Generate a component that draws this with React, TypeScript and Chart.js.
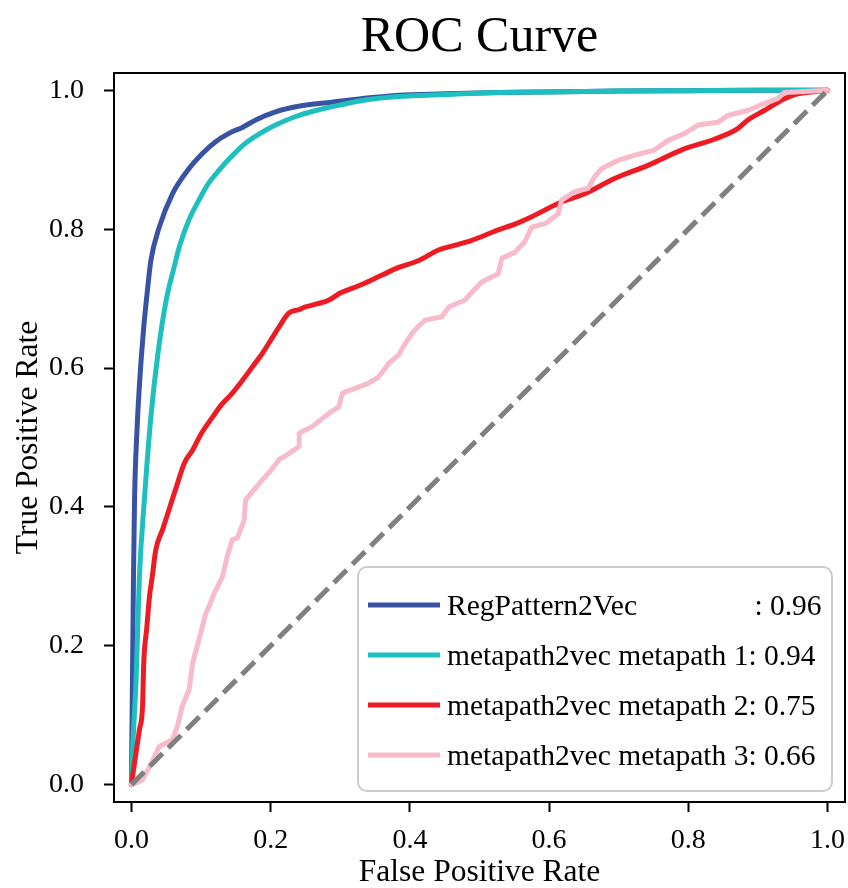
import React, { useEffect, useRef } from "react";
import { Chart, registerables } from "chart.js";

Chart.register(...registerables);

const FONT = "'Liberation Serif', 'Times New Roman', Times, serif";

const titleText = "ROC Curve";
const xAxisLabel = "False Positive Rate";
const yAxisLabel = "True Positive Rate";
const tickValues = [0, 0.2, 0.4, 0.6, 0.8, 1.0];

const seriesNames = [
  "RegPattern2Vec",
  "metapath2vec metapath 1",
  "metapath2vec metapath 2",
  "metapath2vec metapath 3",
];
const seriesAuc = ["0.96", "0.94", "0.75", "0.66"];
const seriesColors = ["#3953a4", "#1ebfbf", "#ed1c24", "#f8bbcb"];
const diagonalColor = "#808080";

// [false positive rate, true positive rate]
const regPattern2VecRoc: [number, number][] = [
  [0, 0], [0.001, 0.1], [0.002, 0.2], [0.003, 0.3], [0.0045, 0.41], [0.008, 0.51],
  [0.0115, 0.575], [0.0139, 0.611], [0.0177, 0.659], [0.0225, 0.707], [0.028, 0.755],
  [0.04, 0.803], [0.059, 0.851], [0.081, 0.885], [0.102, 0.909],
  [0.121, 0.926], [0.14, 0.938], [0.16, 0.947], [0.18, 0.958], [0.207, 0.969],
  [0.24, 0.977], [0.288, 0.983], [0.33, 0.988], [0.384, 0.993], [0.45, 0.995],
  [0.527, 0.997], [0.62, 0.998], [0.7, 0.999], [0.8, 0.9995], [0.9, 1], [1, 1],
];

const metapath1Roc: [number, number][] = [
  [0, 0], [0.002, 0.055], [0.0067, 0.151], [0.0115, 0.3], [0.0186, 0.41], [0.028, 0.53],
  [0.038, 0.62], [0.05, 0.698], [0.06, 0.74], [0.069, 0.775], [0.082, 0.812],
  [0.097, 0.842], [0.11, 0.865], [0.126, 0.885], [0.145, 0.906], [0.164, 0.924],
  [0.185, 0.938], [0.207, 0.95], [0.235, 0.962], [0.265, 0.971], [0.3, 0.979],
  [0.336, 0.986], [0.384, 0.991], [0.45, 0.994], [0.527, 0.997], [0.62, 0.998],
  [0.7, 0.999], [0.8, 0.9995], [0.9, 1], [1, 1],
];

const metapath2Roc: [number, number][] = [
  [0, 0], [0.005, 0.035], [0.0115, 0.079], [0.016, 0.113], [0.0177, 0.175], [0.022, 0.225],
  [0.026, 0.271], [0.03, 0.3], [0.035, 0.338], [0.045, 0.368], [0.054, 0.396],
  [0.065, 0.43], [0.076, 0.463], [0.088, 0.482], [0.1, 0.505], [0.117, 0.53],
  [0.13, 0.548], [0.145, 0.564], [0.16, 0.583], [0.174, 0.602], [0.188, 0.621],
  [0.2, 0.64], [0.212, 0.659], [0.226, 0.679], [0.24, 0.684], [0.25, 0.688],
  [0.265, 0.692], [0.284, 0.698], [0.3, 0.708], [0.33, 0.72], [0.36, 0.734],
  [0.384, 0.745], [0.413, 0.755], [0.441, 0.77], [0.465, 0.777], [0.489, 0.784],
  [0.527, 0.799], [0.55, 0.807], [0.575, 0.818], [0.613, 0.837], [0.651, 0.851],
  [0.694, 0.873], [0.742, 0.892], [0.79, 0.914], [0.838, 0.93], [0.871, 0.945],
  [0.885, 0.957], [0.909, 0.971], [0.938, 0.988], [0.957, 0.995], [0.98, 0.998], [1, 1],
];

const metapath3Roc: [number, number][] = [
  [0, 0], [0.008, 0.003], [0.016, 0.007], [0.02, 0.015], [0.026, 0.026], [0.033, 0.04],
  [0.04, 0.055], [0.05, 0.06], [0.059, 0.065], [0.066, 0.084], [0.073, 0.113],
  [0.078, 0.125], [0.083, 0.137], [0.088, 0.175], [0.092, 0.19], [0.097, 0.209],
  [0.107, 0.247], [0.113, 0.26], [0.119, 0.276], [0.131, 0.3], [0.138, 0.33],
  [0.145, 0.353], [0.152, 0.355], [0.162, 0.381], [0.164, 0.41], [0.174, 0.422],
  [0.188, 0.439], [0.2, 0.452], [0.212, 0.468], [0.225, 0.476], [0.241, 0.487],
  [0.241, 0.506], [0.26, 0.516], [0.284, 0.535], [0.298, 0.544], [0.303, 0.564],
  [0.327, 0.573], [0.34, 0.578], [0.355, 0.587], [0.37, 0.607], [0.384, 0.619],
  [0.39, 0.63], [0.403, 0.65], [0.412, 0.66], [0.422, 0.669], [0.446, 0.674],
  [0.456, 0.688], [0.479, 0.698], [0.49, 0.71], [0.503, 0.724], [0.527, 0.736],
  [0.532, 0.758], [0.551, 0.767], [0.565, 0.782], [0.575, 0.803], [0.594, 0.808],
  [0.613, 0.822], [0.618, 0.842], [0.637, 0.854], [0.656, 0.859], [0.665, 0.875],
  [0.675, 0.887], [0.699, 0.899], [0.728, 0.908], [0.751, 0.914], [0.771, 0.928],
  [0.795, 0.938], [0.814, 0.95], [0.842, 0.954], [0.857, 0.964], [0.885, 0.971],
  [0.909, 0.981], [0.928, 0.988], [0.938, 0.997], [0.96, 0.998], [1, 1],
];

const chanceLine: [number, number][] = [[0, 0], [1, 1]];

const rocSeries = [regPattern2VecRoc, metapath1Roc, metapath2Roc, metapath3Roc];
const smoothSeries = [true, true, true, false];

const decorPlugin = {
  id: "decor",
  afterDatasetsDraw(chart: any) {
    const { ctx, chartArea: a } = chart;
    ctx.save();
    // top & right spines
    ctx.strokeStyle = "#000";
    ctx.lineWidth = 2;
    ctx.beginPath();
    ctx.moveTo(a.left - 1, a.top);
    ctx.lineTo(a.right, a.top);
    ctx.lineTo(a.right, a.bottom + 1);
    ctx.stroke();

    // legend
    const bx = a.right - 487;
    const by = a.bottom - 235;
    const bw = 474;
    const bh = 224;
    ctx.beginPath();
    ctx.roundRect(bx, by, bw, bh, 9);
    ctx.fillStyle = "rgba(255,255,255,0.85)";
    ctx.fill();
    ctx.strokeStyle = "#cccccc";
    ctx.lineWidth = 2;
    ctx.stroke();

    ctx.font = `29.5px ${FONT}`;
    ctx.textAlign = "left";
    ctx.textBaseline = "alphabetic";
    const tx = bx + 89;
    let maxW = 0;
    for (let i = 1; i < seriesNames.length; i++) {
      maxW = Math.max(maxW, ctx.measureText(seriesNames[i]).width);
    }
    seriesNames.forEach((name, i) => {
      const ly = by + 38 + i * 50;
      ctx.strokeStyle = seriesColors[i];
      ctx.lineWidth = 5;
      ctx.beginPath();
      ctx.moveTo(bx + 10, ly);
      ctx.lineTo(bx + 82, ly);
      ctx.stroke();
      ctx.fillStyle = "#000";
      ctx.fillText(name, tx, ly + 10);
      const w = i === 0 ? maxW + 6 : ctx.measureText(name).width;
      ctx.fillText(": " + seriesAuc[i], tx + w, ly + 10);
    });

    // title
    const cx = (a.left + a.right) / 2;
    ctx.fillStyle = "#000";
    ctx.textAlign = "center";
    ctx.font = `50px ${FONT}`;
    ctx.fillText(titleText, cx, 51);

    // axis labels
    ctx.font = `31.5px ${FONT}`;
    ctx.fillText(xAxisLabel, cx, a.bottom + 79);
    ctx.translate(37, (a.top + a.bottom) / 2);
    ctx.rotate(-Math.PI / 2);
    ctx.fillText(yAxisLabel, 0, 0);
    ctx.restore();
  },
};

export default function App() {
  const canvasRef = useRef<HTMLCanvasElement | null>(null);

  useEffect(() => {
    if (!canvasRef.current) return;
    const toXY = (pts: [number, number][]) => pts.map(([x, y]) => ({ x, y }));
    const datasets: any[] = rocSeries.map((pts, i) => ({
      label: seriesNames[i],
      data: toXY(pts),
      borderColor: seriesColors[i],
      backgroundColor: seriesColors[i],
      borderWidth: 5,
      pointRadius: 0,
      tension: 0,
      cubicInterpolationMode: smoothSeries[i] ? "monotone" : "default",
      fill: false,
      borderJoinStyle: "round",
      borderCapStyle: "round",
      order: 5 - i,
    }));
    datasets.push({
      label: "chance",
      data: toXY(chanceLine),
      borderColor: diagonalColor,
      borderWidth: 5,
      borderDash: [18, 8],
      pointRadius: 0,
      fill: false,
      order: 0,
    });

    const tickCommon = {
      font: { family: FONT, size: 28 },
      color: "#000",
      autoSkip: false,
      maxRotation: 0,
      callback: (v: any) => Number(v).toFixed(1),
    };
    const gridCommon = {
      drawOnChartArea: false,
      drawTicks: true,
      tickLength: 10,
      tickWidth: 2,
      tickColor: "#000",
    };

    const chart = new Chart(canvasRef.current, {
      type: "line",
      data: { datasets },
      options: {
        animation: false,
        responsive: false,
        maintainAspectRatio: false,
        devicePixelRatio: 1,
        layout: { padding: { top: 73, right: 3, bottom: 0, left: 0 } },
        plugins: {
          legend: { display: false },
          title: { display: false },
          tooltip: { enabled: false },
        },
        scales: {
          x: {
            type: "linear",
            min: -0.025,
            max: 1.025,
            afterBuildTicks: (s: any) => {
              s.ticks = tickValues.map((v) => ({ value: v }));
            },
            afterFit: (s: any) => {
              s.height = 86;
              s.paddingLeft = 0;
              s.paddingRight = 0;
            },
            ticks: { ...tickCommon, padding: 12 },
            grid: gridCommon,
            border: { display: true, color: "#000", width: 2 },
          },
          y: {
            type: "linear",
            min: -0.025,
            max: 1.025,
            afterBuildTicks: (s: any) => {
              s.ticks = tickValues.map((v) => ({ value: v }));
            },
            afterFit: (s: any) => {
              s.width = 114;
              s.paddingTop = 0;
              s.paddingBottom = 0;
            },
            ticks: { ...tickCommon, padding: 20 },
            grid: gridCommon,
            border: { display: true, color: "#000", width: 2 },
          },
        },
      } as any,
      plugins: [decorPlugin],
    });
    return () => chart.destroy();
  }, []);

  return (
    <div style={{ position: "absolute", left: 0, top: 0, width: 848, height: 888, background: "#fff" }}>
      <canvas ref={canvasRef} width={848} height={888} style={{ width: 848, height: 888, display: "block" }} />
    </div>
  );
}
